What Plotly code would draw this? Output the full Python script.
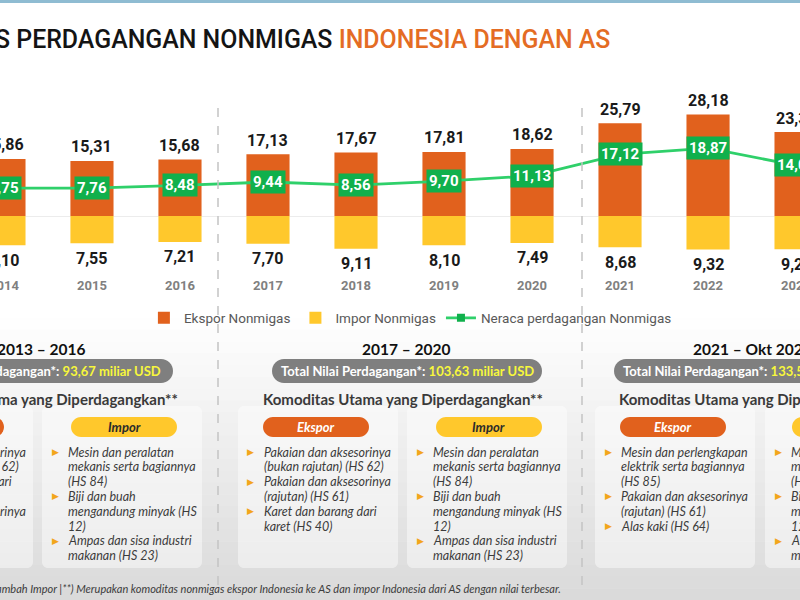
import plotly.graph_objects as go

# ---------------- data ----------------
years = ['2014', '2015', '2016', '2017', '2018', '2019', '2020', '2021', '2022', '2023']
ekspor = [15.86, 15.31, 15.68, 17.13, 17.67, 17.81, 18.62, 25.79, 28.18, 23.31]
impor = [8.10, 7.55, 7.21, 7.70, 9.11, 8.10, 7.49, 8.68, 9.32, 9.27]
neraca = [7.75, 7.76, 8.48, 9.44, 8.56, 9.70, 11.13, 17.12, 18.87, 14.04]

periods = ['2013 – 2016', '2017 – 2020', '2021 – Okt 2024']
total_nilai = ['93,67', '103,63', '133,52']
ekspor_komoditas = [
    [['Pakaian dan aksesorinya', '(bukan rajutan) (HS 62)'],
     ['Karet dan barang dari', 'karet (HS 40)'],
     ['Pakaian dan aksesorinya', '(rajutan) (HS 61)']],
    [['Pakaian dan aksesorinya', '(bukan rajutan) (HS 62)'],
     ['Pakaian dan aksesorinya', '(rajutan) (HS 61)'],
     ['Karet dan barang dari', 'karet (HS 40)']],
    [['Mesin dan perlengkapan', 'elektrik serta bagiannya', '(HS 85)'],
     ['Pakaian dan aksesorinya', '(rajutan) (HS 61)'],
     ['Alas kaki (HS 64)']],
]
impor_list = [['Mesin dan peralatan', 'mekanis serta bagiannya', '(HS 84)'],
              ['Biji dan buah', 'mengandung minyak (HS', '12)'],
              ['Ampas dan sisa industri', 'makanan (HS 23)']]
impor_komoditas = [impor_list, impor_list, impor_list]
footnote = ('*) Ekspor ditambah Impor |**) Merupakan komoditas nonmigas ekspor Indonesia '
            'ke AS dan impor Indonesia dari AS dengan nilai terbesar.')

# ---------------- style ----------------
W, H = 800, 600
ORANGE = '#E1611D'
YELLOW = '#FFC82C'
GREEN_BOX = '#10B04C'
GREEN_LINE = '#2FD06A'
NARROW = 'Roboto, Liberation Sans, sans-serif'
CAL = 'Lato, Carlito, Calibri, sans-serif'


def fmt(v):
    return f'{v:.2f}'.replace('.', ',')


def X(px):
    return px / W


def Y(py):
    return 1 - py / H


def rrect(x0, y0, x1, y1, r):
    k = 0.552 * r
    pts = [
        f'M {X(x0 + r)},{Y(y0)}',
        f'L {X(x1 - r)},{Y(y0)}',
        f'C {X(x1 - r + k)},{Y(y0)} {X(x1)},{Y(y0 + r - k)} {X(x1)},{Y(y0 + r)}',
        f'L {X(x1)},{Y(y1 - r)}',
        f'C {X(x1)},{Y(y1 - r + k)} {X(x1 - r + k)},{Y(y1)} {X(x1 - r)},{Y(y1)}',
        f'L {X(x0 + r)},{Y(y1)}',
        f'C {X(x0 + r - k)},{Y(y1)} {X(x0)},{Y(y1 - r + k)} {X(x0)},{Y(y1 - r)}',
        f'L {X(x0)},{Y(y0 + r)}',
        f'C {X(x0)},{Y(y0 + r - k)} {X(x0 + r - k)},{Y(y0)} {X(x0 + r)},{Y(y0)}',
        'Z',
    ]
    return ' '.join(pts)


def pann(x, y, text, font, xanchor='center', yanchor='middle', **kw):
    d = dict(x=X(x), y=Y(y), xref='paper', yref='paper', showarrow=False, text=text,
             xanchor=xanchor, yanchor=yanchor, font=font)
    d.update(kw)
    return d


fig = go.Figure()
fig.add_trace(go.Bar(x=years, y=ekspor, name='Ekspor Nonmigas', marker_color=ORANGE,
                     width=0.49, marker_line_width=0))
fig.add_trace(go.Bar(x=years, y=[-v for v in impor], name='Impor Nonmigas', marker_color=YELLOW,
                     width=0.49, marker_line_width=0))
fig.add_trace(go.Scatter(x=years, y=neraca, name='Neraca perdagangan Nonmigas',
                         mode='lines+markers', line=dict(color=GREEN_LINE, width=2.8),
                         marker=dict(symbol='square', size=8, color=GREEN_BOX)))

ann = []
shapes = []

# value labels
for k, (e, i, n) in enumerate(zip(ekspor, impor, neraca)):
    ann.append(dict(x=k, y=e, xref='x', yref='y', text=f'<b>{fmt(e)}</b>', showarrow=False,
                    xanchor='center', yanchor='middle', yshift=14,
                    font=dict(family=NARROW, size=16, color='#1a1a1a')))
    ann.append(dict(x=k, y=-i, xref='x', yref='y', text=f'<b>{fmt(i)}</b>', showarrow=False,
                    xanchor='center', yanchor='middle', yshift=-15,
                    font=dict(family=NARROW, size=16, color='#1a1a1a')))
    ann.append(dict(x=k, y=n, xref='x', yref='y', text=f'<b>{fmt(n)}</b>', showarrow=False,
                    xanchor='center', yanchor='middle', bgcolor=GREEN_BOX, borderpad=2,
                    font=dict(family=NARROW, size=15, color='white')))

# title
ann.append(pann(-7, 40,
                "S PERDAGANGAN NONMIGAS <span style='color:#E46C24'>INDONESIA DENGAN AS</span>",
                dict(family=NARROW, size=24.9, color='#141414', weight=500), xanchor='left'))

# top strip
shapes.append(dict(type='rect', xref='paper', yref='paper', x0=0, x1=1, y0=Y(3), y1=Y(0),
                   fillcolor='#8FBCD2', line_width=0, layer='below'))

# background gradient of lower section
y_start, y_end, nb = 318, 600, 24
for b in range(nb):
    t = b / (nb - 1)
    g = int(round(254 - t * 36))
    ya = y_start + (y_end - y_start) * b / nb
    yb = y_start + (y_end - y_start) * (b + 1) / nb + 0.6
    shapes.append(dict(type='rect', xref='paper', yref='paper', x0=0, x1=1, y0=Y(yb), y1=Y(ya),
                       fillcolor=f'rgb({g},{g},{g})', line_width=0, layer='below'))

# period layout (pixel positions)
head_cx = [41, 406, 752]
pill_x = [(-97, 173), (272, 542), (614, 884)]
kom_cx = [38, 403, 759]
eks_pill_cx = [-49, 316, 673]
imp_pill_cx = [124, 489, 845]
eks_tx = [-103, 262, 619]
imp_tx = [66, 431, 789]

for p in range(3):
    for tx in (eks_tx[p], imp_tx[p]):
        shapes.append(dict(type='path', xref='paper', yref='paper',
                           path=rrect(tx - 24, 406, tx + 136, 568, 6),
                           fillcolor='rgba(255,255,255,0.45)', line=dict(width=0), layer='below'))
    ann.append(pann(head_cx[p], 349, f'<b>{periods[p]}</b>',
                    dict(family=CAL, size=15.5, color='#111111')))
    x0, x1 = pill_x[p]
    shapes.append(dict(type='path', xref='paper', yref='paper', path=rrect(x0, 359, x1, 383, 12),
                       fillcolor='#7F7F7F', line=dict(width=0)))
    ann.append(pann((x0 + x1) / 2, 371,
                    ("<b>Total Nilai Perdagangan*: <span style='color:#F7F73C'>"
                     f"{total_nilai[p]} miliar USD</span></b>"),
                    dict(family=CAL, size=13, color='white')))
    ann.append(pann(kom_cx[p], 399, '<b>Komoditas Utama yang Diperdagangkan**</b>',
                    dict(family=CAL, size=15, color='#3a3a3a')))
    for cx, col, label, tcol in ((eks_pill_cx[p], ORANGE, 'Ekspor', 'white'),
                                 (imp_pill_cx[p], YELLOW, 'Impor', '#2b2b2b')):
        shapes.append(dict(type='path', xref='paper', yref='paper',
                           path=rrect(cx - 53, 417, cx + 53, 437, 10),
                           fillcolor=col, line=dict(width=0)))
        ann.append(pann(cx, 427, f'<b><i>{label}</i></b>', dict(family=CAL, size=13, color=tcol)))
    for tx, items in ((eks_tx[p], ekspor_komoditas[p]), (imp_tx[p], impor_komoditas[p])):
        line_i = 0
        for item in items:
            for j, line in enumerate(item):
                yy = 452 + 14.8 * line_i
                if j == 0:
                    ann.append(pann(tx - 11, yy, '▶',
                                    dict(family='DejaVu Sans', size=9, color='#F2A61C')))
                ann.append(pann(tx, yy, f'<i>{line}</i>',
                                dict(family=CAL, size=12.5, color='#3c3c3c'), xanchor='left'))
                line_i += 1

# dashed separators
for xp in (218, 582):
    shapes.append(dict(type='line', xref='paper', yref='paper', x0=X(xp), x1=X(xp),
                       y0=Y(108), y1=Y(585), line=dict(color='#C4C4C4', width=1.5, dash='dash')))

# footnote
ann.append(pann(563, 588, f'<i>{footnote}</i>', dict(family=CAL, size=11, color='#3c3c3c'),
                xanchor='right'))

fig.update_layout(
    width=W, height=H, margin=dict(l=0, r=0, t=0, b=0),
    paper_bgcolor='white', plot_bgcolor='rgba(0,0,0,0)',
    barmode='relative', bargap=0.5,
    showlegend=True,
    legend=dict(orientation='h', x=0.513, xanchor='center', y=Y(318), yanchor='middle',
                font=dict(family=NARROW, size=13.5, color='#595959'), bgcolor='rgba(0,0,0,0)',
                traceorder='normal'),
    xaxis=dict(type='category', range=[-0.045, 9.045], showgrid=False, showline=False, ticks='',
               automargin=False,
               tickfont=dict(family=NARROW, size=13, color='#808080', weight='bold'),
               domain=[0, 1]),
    yaxis=dict(range=[-16.667, 32.222], domain=[Y(276), Y(100)], showgrid=False,
               showticklabels=False, zeroline=True, zerolinecolor='#ECECEC', zerolinewidth=1,
               automargin=False),
    annotations=ann, shapes=shapes,
)

fig.write_html('out.html', config={'displayModeBar': False},
               post_script="document.body.style.margin='0';")
